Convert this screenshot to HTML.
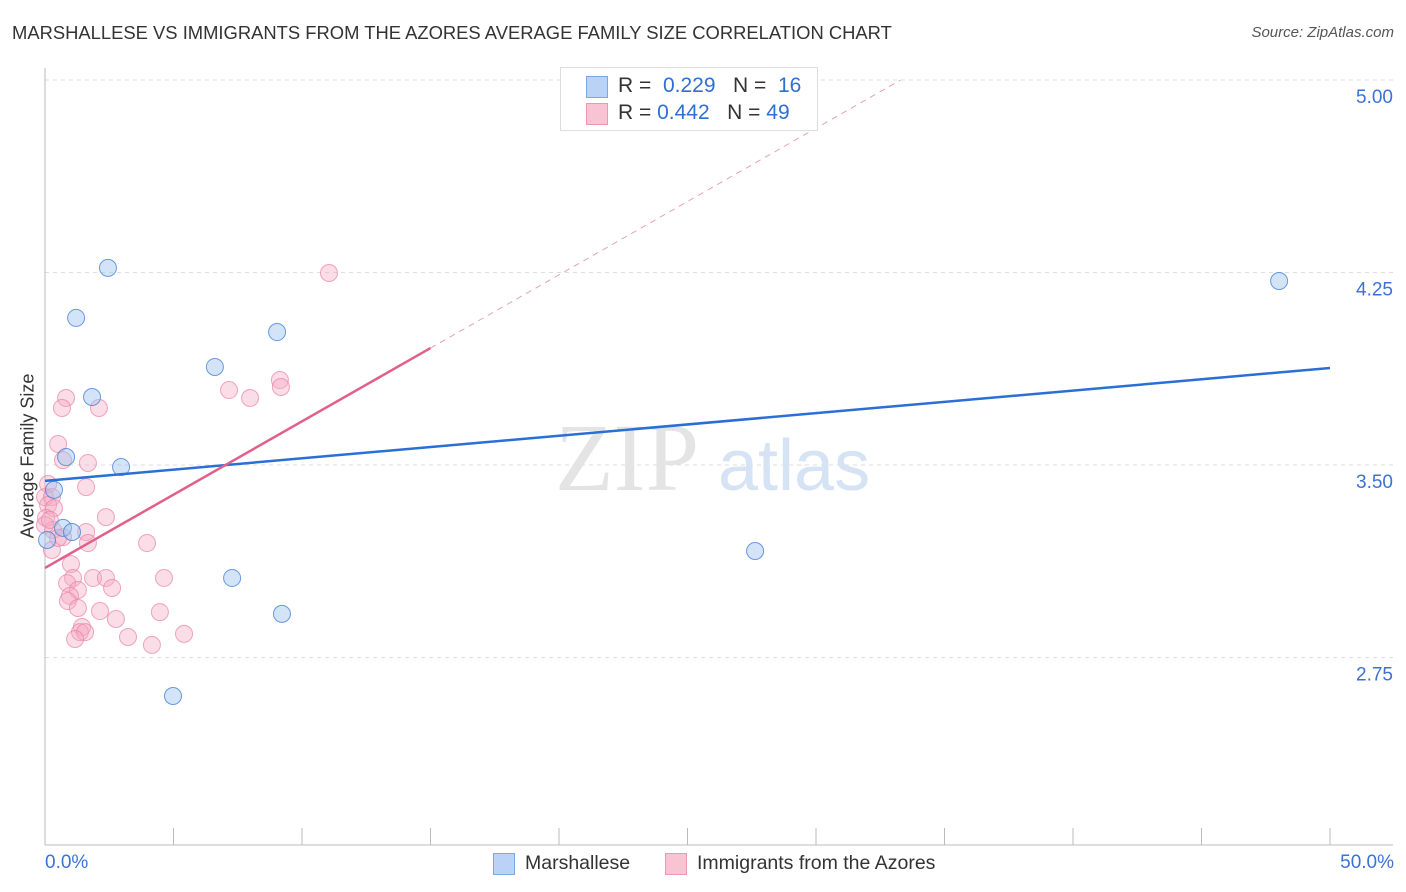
<!DOCTYPE html>
<html><head><meta charset="utf-8"><style>
body{margin:0;background:#fff;font-family:"Liberation Sans",sans-serif;}
#wrap{position:relative;width:1406px;height:892px;overflow:hidden;}
.t{position:absolute;white-space:nowrap;}
</style></head><body>
<div id="wrap">
<div class="t" style="left:12px;top:22px;font-size:18.4px;color:#333;">MARSHALLESE VS IMMIGRANTS FROM THE AZORES AVERAGE FAMILY SIZE CORRELATION CHART</div>
<div class="t" style="right:12px;top:24px;font-size:15px;color:#555;font-style:italic;">Source: ZipAtlas.com</div>
<svg id="svg" width="1406" height="892" style="position:absolute;left:0;top:0"></svg>
</div>
<script>
const yTicks=[5.00,4.25,3.50,2.75];
const yTickLabels=["5.00","4.25","3.50","2.75"];
const blueX=[2.45,1.21,1.83,0.82,2.96,0.35,0.70,1.05,0.08,6.61,9.03,7.28,9.22,4.98,27.63,48.02];
const blueY=[4.268,4.073,3.765,3.531,3.492,3.403,3.255,3.239,3.208,3.882,4.018,3.060,2.920,2.600,3.165,4.217];
const pinkX=[0.82,0.66,2.10,0.51,0.70,1.67,0.12,1.60,0,0.27,0.12,0.35,0.04,2.37,0.31,1.60,0.70,1.67,3.97,0.27,1.01,1.09,1.87,2.37,4.63,0.86,2.61,1.28,0.97,0.89,1.28,2.14,4.47,2.76,1.44,1.36,1.56,3.23,1.17,4.16,5.41,7.16,7.98,9.14,9.18,11.05,0.51,0,0.19];
const pinkY=[3.761,3.722,3.722,3.582,3.519,3.508,3.426,3.414,3.375,3.375,3.344,3.332,3.294,3.297,3.247,3.239,3.219,3.196,3.196,3.169,3.114,3.060,3.060,3.060,3.060,3.040,3.021,3.013,2.990,2.970,2.943,2.931,2.927,2.900,2.869,2.849,2.849,2.830,2.822,2.799,2.842,3.792,3.761,3.831,3.804,4.248,3.216,3.266,3.286];
const blueLine=[3.438,3.878];
const pinkLine=[3.099,0.0571];
const X=v=>45+v*25.7;
const Y=v=>80+(5-v)*256.67;
const svg=document.getElementById('svg');
const NS='http://www.w3.org/2000/svg';
function mk(tag,attrs,parent){const e=document.createElementNS(NS,tag);for(const k in attrs)e.setAttribute(k,attrs[k]);(parent||svg).appendChild(e);return e;}
yTicks.forEach((v,i)=>{
 const g=mk('line',{x1:45,x2:1393,y1:Y(v),y2:Y(v),stroke:'#ddd','stroke-dasharray':'4,4'});
 
 
 const t=mk('text',{x:1393,y:Y(v)+23,'text-anchor':'end','font-size':19,fill:'#3b73d4','font-family':'Liberation Sans,sans-serif'});
 t.textContent=yTickLabels[i];
 
 
});
let ax=mk('line',{x1:45,x2:45,y1:68,y2:845,stroke:'#bbb'});


ax=mk('line',{x1:45,x2:1393,y1:845,y2:845,stroke:'#bbb'});


for(let i=0;i<=10;i++){
 const tk=mk('line',{x1:X(i*5),x2:X(i*5),y1:828,y2:845,stroke:'#bbb'});
 
 
}
let wm=mk('text',{x:555,y:490,'font-size':96,fill:'#e4e4e4','font-family':'Liberation Serif,serif'});wm.textContent='ZIP';


wm=mk('text',{x:718,y:490,'font-size':72,fill:'#d6e3f5','font-family':'Liberation Sans,sans-serif'});wm.textContent='atlas';


pinkX.forEach((x,i)=>{
 const c=mk('circle',{cx:X(x),cy:Y(pinkY[i]),r:8.5,fill:'rgba(246,170,195,0.4)',stroke:'rgba(232,130,165,0.7)','stroke-width':1});
 
 
});
blueX.forEach((x,i)=>{
 const c=mk('circle',{cx:X(x),cy:Y(blueY[i]),r:8.5,fill:'rgba(160,195,240,0.45)',stroke:'rgba(70,130,215,0.8)','stroke-width':1});
 
 
});
let l=mk('line',{x1:X(0),y1:Y(blueLine[0]),x2:X(50),y2:Y(blueLine[1]),stroke:'#2a6fd6','stroke-width':2.5});


l=mk('line',{x1:X(0),y1:Y(pinkLine[0]),x2:X(15),y2:Y(pinkLine[0]+15*pinkLine[1]),stroke:'#e0608a','stroke-width':2.5});


const xe=(5-pinkLine[0])/pinkLine[1];
l=mk('line',{x1:X(15),y1:Y(pinkLine[0]+15*pinkLine[1]),x2:X(xe),y2:Y(5),stroke:'#e8a0b8','stroke-width':1,'stroke-dasharray':'6,5'});


</script>
<div class="t" style="left:28px;top:456px;font-size:18px;color:#333;transform:translate(-50%,-50%) rotate(-90deg);">Average Family Size</div>
<div class="t" style="left:45px;top:852px;font-size:19px;color:#3b73d4;">0.0%</div>
<div class="t" style="right:12px;top:852px;font-size:19px;color:#3b73d4;">50.0%</div>
<div style="position:absolute;left:560px;top:67px;width:256px;height:62px;border:1px solid #ddd;background:#fff;font-size:21px;color:#333;">
 <div style="position:absolute;left:25px;top:8px;width:20px;height:20px;background:#b9d2f5;border:1px solid #7ea6e0;"></div>
 <div class="t" style="left:57px;top:6px;">R = <span style="color:#2f6fd0">&nbsp;0.229</span>&nbsp;&nbsp;&nbsp;N = <span style="color:#2f6fd0">&nbsp;16</span></div>
 <div style="position:absolute;left:25px;top:35px;width:20px;height:20px;background:#f8c4d4;border:1px solid #ec98b4;"></div>
 <div class="t" style="left:57px;top:33px;">R = <span style="color:#2f6fd0">0.442</span>&nbsp;&nbsp;&nbsp;N = <span style="color:#2f6fd0">49</span></div>
</div>
<div style="position:absolute;left:493px;top:852px;font-size:19.5px;color:#333;">
 <div style="position:absolute;left:0;top:1px;width:20px;height:20px;background:#b9d2f5;border:1px solid #7ea6e0;"></div>
 <div class="t" style="left:32px;top:0;">Marshallese</div>
 <div style="position:absolute;left:172px;top:1px;width:20px;height:20px;background:#f8c4d4;border:1px solid #ec98b4;"></div>
 <div class="t" style="left:204px;top:0;">Immigrants from the Azores</div>
</div>
</body></html>
